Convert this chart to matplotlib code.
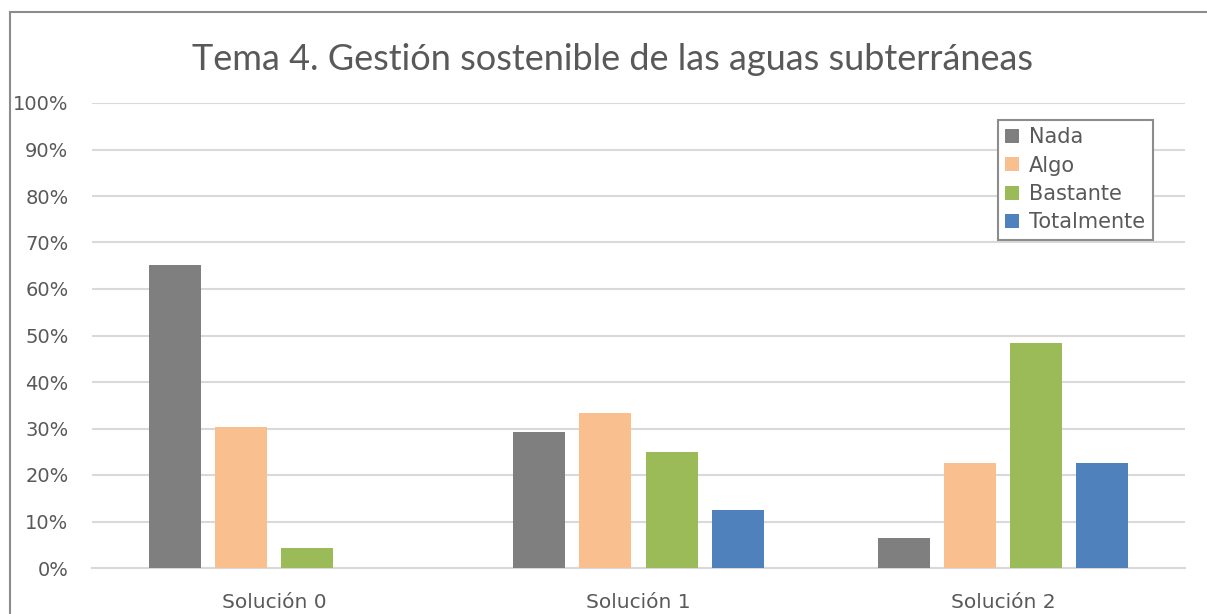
import matplotlib.pyplot as plt
import numpy as np
from matplotlib.patches import Rectangle
from matplotlib.ticker import PercentFormatter

plt.rcParams['font.family'] = ['DejaVu Sans']

# datos (fracciones)
categorias = ['Solución 0', 'Solución 1', 'Solución 2']
series = ['Nada', 'Algo', 'Bastante', 'Totalmente']
nada = [0.652, 0.292, 0.065]
algo = [0.304, 0.333, 0.226]
bastante = [0.043, 0.250, 0.484]
totalmente = [0.0, 0.125, 0.226]

colores = ['#7f7f7f', '#f9bf8f', '#9bbb59', '#4f81bd']
texto = '#595959'

fig = plt.figure(figsize=(12.07, 6.14), dpi=100)
ax = fig.add_axes([92 / 1207, 46 / 614, 1093 / 1207, 465 / 614])

x = np.arange(len(categorias))
ancho = 52 / 364.3
paso = 66 / 364.3
for i, (nombre, vals) in enumerate(zip(series, [nada, algo, bastante, totalmente])):
    ax.bar(x + (i - 1.5) * paso, vals, width=ancho, color=colores[i], label=nombre, zorder=3)

ax.set_xlim(-0.5, 2.5)
ax.set_ylim(0, 1)
ax.set_yticks(np.arange(0, 1.01, 0.1))
ax.yaxis.set_major_formatter(PercentFormatter(1.0, decimals=0))
ax.set_xticks(x)
ax.set_xticklabels(categorias)
ax.tick_params(axis='both', length=0, colors=texto, labelsize=14)
ax.tick_params(axis='x', labelsize=14.5)
ax.tick_params(axis='y', pad=17)
ax.tick_params(axis='x', pad=18)
ax.grid(axis='y', color='#d9d9d9', linewidth=1.5, zorder=0)
for s in ['top', 'right', 'left']:
    ax.spines[s].set_visible(False)
ax.spines['bottom'].set_color('#d9d9d9')
ax.spines['bottom'].set_linewidth(1.5)

fig.text(613 / 1207, 1 - 60 / 614, 'Tema 4. Gestión sostenible de las aguas subterráneas',
         ha='center', va='center', fontsize=26, color=texto, family=['Lato', 'DejaVu Sans'])

leg = ax.legend(loc='upper left', bbox_to_anchor=(998 / 1207, 1 - 120 / 614),
                bbox_transform=fig.transFigure, borderaxespad=0, fancybox=False,
                edgecolor='#8c8c8c', framealpha=1, fontsize=15,
                handlelength=0.65, handleheight=0.65, handletextpad=0.5,
                labelspacing=0.4, borderpad=0.35)
leg.get_frame().set_linewidth(1.5)
for t in leg.get_texts():
    t.set_color(texto)

# marco exterior del gráfico (recortado a la derecha y abajo)
fig.patches.append(Rectangle((10 / 1207, -0.1), 1.2, 1 - 12 / 614 + 0.1,
                             transform=fig.transFigure, fill=False,
                             edgecolor='#8c8c8c', linewidth=1.5, clip_on=False))

plt.savefig('out.png', dpi=100)
